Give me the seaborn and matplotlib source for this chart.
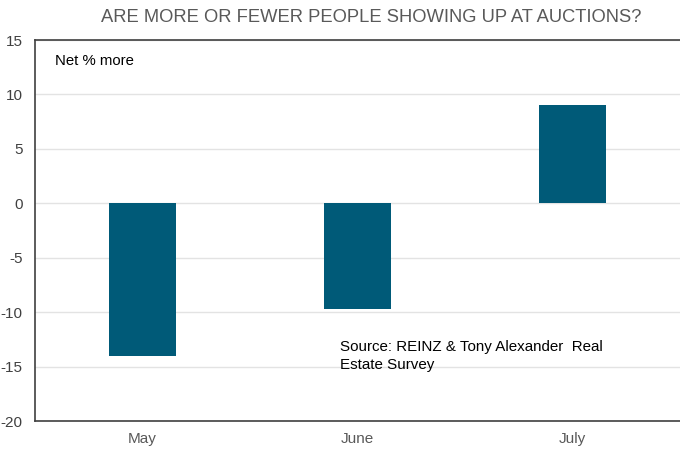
import matplotlib
matplotlib.use("Agg")
import matplotlib.pyplot as plt
import seaborn as sns
import pandas as pd

months = ["May", "June", "July"]
net_more = [-14.0, -9.7, 9.0]
y_ticks = [-20, -15, -10, -5, 0, 5, 10, 15]

sns.set_style("white")
plt.rcParams["font.family"] = ["Liberation Sans", "DejaVu Sans"]

df = pd.DataFrame({"month": months, "net": net_more})

fig = plt.figure(figsize=(6.8, 4.5), dpi=100)
ax = fig.add_axes([35 / 680, 1 - 421 / 450, 645 / 680, 381 / 450])

sns.barplot(data=df, x="month", y="net", color="#005a78", saturation=1,
            width=0.315, ax=ax, zorder=3, linewidth=0, edgecolor="none")

ax.set_ylim(-20, 15)
ax.set_yticks(y_ticks)
ax.set_yticklabels([str(t) for t in y_ticks])
ax.set_xlim(-0.5, 2.5)
ax.yaxis.grid(True, color="#e3e3e3", linewidth=1, zorder=0)
ax.set_axisbelow(True)
ax.set_xlabel("")
ax.set_ylabel("")
ax.tick_params(axis="both", length=0, labelsize=11, colors="#404040")
ax.tick_params(axis="y", pad=9)
ax.tick_params(axis="x", pad=8)
for lab in ax.get_xticklabels():
    lab.set_color("#595959")

for side in ["left", "bottom", "top"]:
    ax.spines[side].set_visible(True)
    ax.spines[side].set_color("#404040")
    ax.spines[side].set_linewidth(1.2)
ax.spines["right"].set_visible(False)

fig.text(371 / 680, 1 - 17 / 450, "ARE MORE OR FEWER PEOPLE SHOWING UP AT AUCTIONS?",
         ha="center", va="center", fontsize=13.2, color="#595959")
fig.text(55 / 680, 1 - 61 / 450, "Net % more", ha="left", va="center",
         fontsize=10.7, color="#000000")
fig.text(340 / 680, 1 - 356 / 450, "Source: REINZ & Tony Alexander  Real\nEstate Survey",
         ha="left", va="center", fontsize=10.9, color="#000000", linespacing=1.3)

fig.savefig("out.png", dpi=100)
